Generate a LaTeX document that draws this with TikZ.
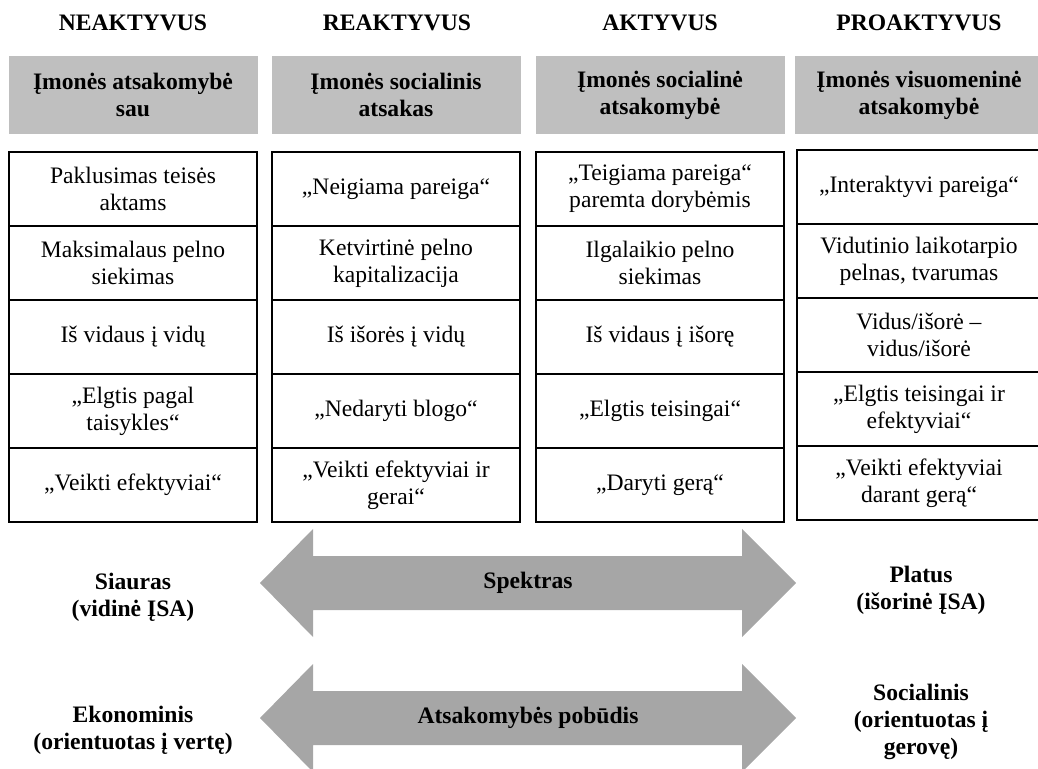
\documentclass[tikz,border=0pt]{standalone}
\usepackage{fontspec}
\setmainfont{Liberation Serif}
\usetikzlibrary{positioning}
\definecolor{headgray}{HTML}{BFBFBF}
\definecolor{arrowgray}{HTML}{A6A6A6}

\begin{document}
\begin{tikzpicture}[x=0.5pt, y=-0.5pt,
			every node/.style={font=\fontsize{11.8}{13.5}\selectfont, align=center, outer sep=0pt},
			coltitle/.style={font=\fontsize{11.8}{13.5}\selectfont\bfseries},
			header/.style={fill=headgray, minimum width=124.5pt, minimum height=39pt, font=\fontsize{11.8}{13.5}\selectfont\bfseries},
			cell/.style={draw, line width=0.9pt, minimum width=124pt, minimum height=37pt, inner sep=2pt},
			sidelabel/.style={font=\fontsize{11.8}{13.5}\selectfont\bfseries}]
			\useasboundingbox (0,0) rectangle (1038,769);

			% column titles
			\node[coltitle](title1) at (133, 23) {NEAKTYVUS};
			\node[coltitle](title2) at (397, 23) {REAKTYVUS};
			\node[coltitle](title3) at (660, 23) {AKTYVUS};
			\node[coltitle](title4) at (919, 23) {PROAKTYVUS};

			% gray headers
			\node[header](head1) at (133, 95) {Įmonės atsakomybė\\sau};
			\node[header](head2) at (396, 95) {Įmonės socialinis\\atsakas};
			\node[header](head3) at (660, 95) {Įmonės socialinė\\atsakomybė};
			\node[header](head4) at (919, 95) {Įmonės visuomeninė\\atsakomybė};

			% first column
			\node[cell, below=9pt of head1](cell11) {Paklusimas teisės\\aktams};
			\node[cell, below=0pt of cell11](cell12) {Maksimalaus pelno\\siekimas};
			\node[cell, below=0pt of cell12](cell13) {Iš vidaus į vidų};
			\node[cell, below=0pt of cell13](cell14) {„Elgtis pagal\\taisykles“};
			\node[cell, below=0pt of cell14](cell15) {„Veikti efektyviai“};

			% second column
			\node[cell, below=9pt of head2](cell21) {„Neigiama pareiga“};
			\node[cell, below=0pt of cell21](cell22) {Ketvirtinė pelno\\kapitalizacija};
			\node[cell, below=0pt of cell22](cell23) {Iš išorės į vidų};
			\node[cell, below=0pt of cell23](cell24) {„Nedaryti blogo“};
			\node[cell, below=0pt of cell24](cell25) {„Veikti efektyviai ir\\gerai“};

			% third column
			\node[cell, below=9pt of head3](cell31) {„Teigiama pareiga“\\paremta dorybėmis};
			\node[cell, below=0pt of cell31](cell32) {Ilgalaikio pelno\\siekimas};
			\node[cell, below=0pt of cell32](cell33) {Iš vidaus į išorę};
			\node[cell, below=0pt of cell33](cell34) {„Elgtis teisingai“};
			\node[cell, below=0pt of cell34](cell35) {„Daryti gerą“};

			% fourth column
			\node[cell, minimum width=122pt, below=8pt of head4](cell41) {„Interaktyvi pareiga“};
			\node[cell, minimum width=122pt, below=0pt of cell41](cell42) {Vidutinio laikotarpio\\pelnas, tvarumas};
			\node[cell, minimum width=122pt, below=0pt of cell42](cell43) {Vidus/išorė –\\vidus/išorė};
			\node[cell, minimum width=122pt, below=0pt of cell43](cell44) {„Elgtis teisingai ir\\efektyviai“};
			\node[cell, minimum width=122pt, below=0pt of cell44](cell45) {„Veikti efektyviai\\darant gerą“};

			% double arrows
			\fill[arrowgray] (260,583) -- ++(53,-54) -- ++(0,27) -- ++(429,0) -- ++(0,-27) -- ++(54,54)
				-- ++(-54,54) -- ++(0,-27) -- ++(-429,0) -- ++(0,27) -- cycle;
			\node[sidelabel](spektras) at (528, 583) {Spektras};
			\fill[arrowgray] (260,718) -- ++(53,-54) -- ++(0,27) -- ++(429,0) -- ++(0,-27) -- ++(54,54)
				-- ++(-54,54) -- ++(0,-27) -- ++(-429,0) -- ++(0,27) -- cycle;
			\node[sidelabel](pobudis) at (528, 718) {Atsakomybės pobūdis};

			% ends of the scales
			\node[sidelabel](siauras) at (133, 597) {Siauras\\(vidinė ĮSA)};
			\node[sidelabel](platus) at (921, 590) {Platus\\(išorinė ĮSA)};
			\node[sidelabel](ekonominis) at (133, 730) {Ekonominis\\(orientuotas į vertę)};
			\node[sidelabel](socialinis) at (921, 722) {Socialinis\\(orientuotas į\\gerovę)};
\end{tikzpicture}
\end{document}
